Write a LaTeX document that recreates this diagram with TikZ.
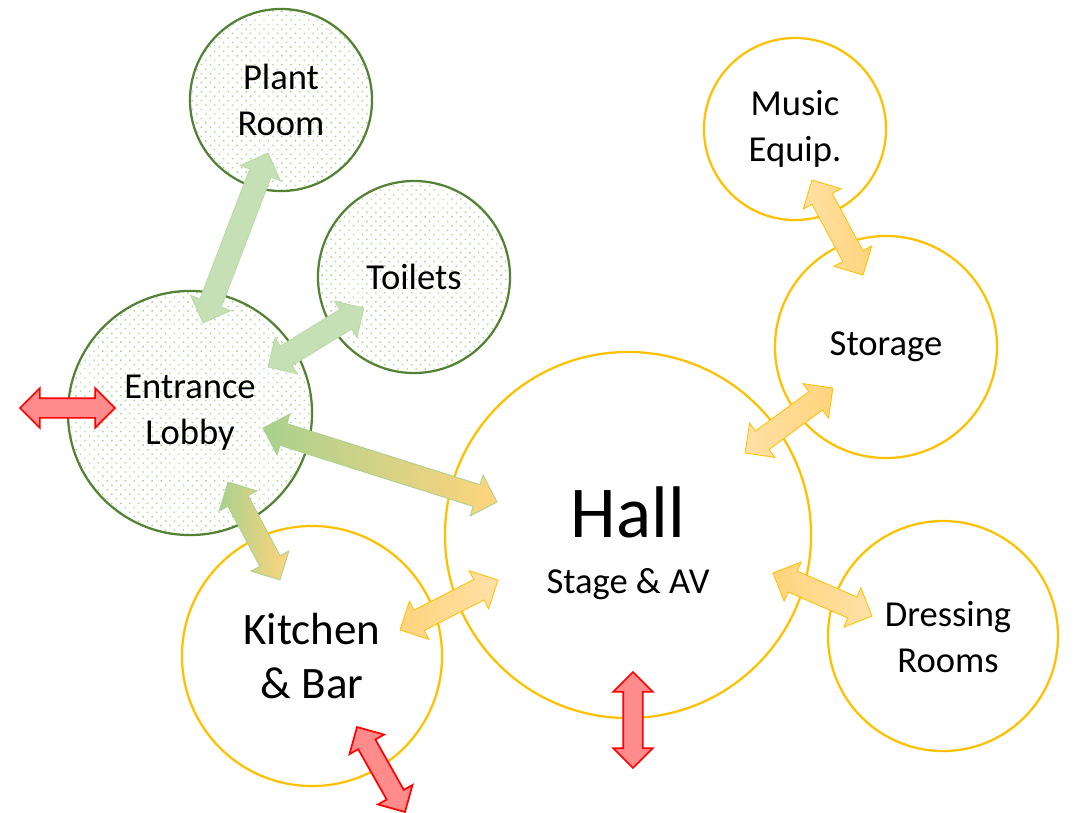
\documentclass[tikz,border=0pt]{standalone}
\usepackage{fontspec}
\setmainfont{Carlito}
\usetikzlibrary{shapes.arrows,patterns.meta,calc}

\definecolor{leafline}{HTML}{548235}
\definecolor{leafdot}{HTML}{A9D18E}
\definecolor{leaffill}{HTML}{C5E0B4}
\definecolor{sunline}{HTML}{FFC000}
\definecolor{sunfill}{HTML}{FFD47C}
\definecolor{sunlight}{HTML}{FFE0A6}
\definecolor{exitline}{HTML}{FF0000}
\definecolor{exitfill}{HTML}{FF8B8B}

\tikzset{
  room/.style={circle, line width=1.6pt, align=center, inner sep=0pt,
    font=\fontsize{26}{32.6}\selectfont},
  greenroom/.style={room, draw=leafline,
    pattern={Dots[distance=4.5pt, radius=0.7pt, angle=45]}, pattern color=leafdot},
  yellowroom/.style={room, draw=sunline},
  link/.style={double arrow, inner xsep=0pt, inner ysep=0.275cm,
    double arrow head extend=0.25cm, line width=0.6pt},
  greenlink/.style={link, fill=leaffill, draw=leafdot!80},
  yellowlink/.style={link, left color=sunfill, right color=sunlight, draw=sunline},
  lightlink/.style={link, left color=sunlight, right color=sunfill, draw=sunline},
  mixlink/.style={link, left color=leafdot, right color=sunfill, draw=leafdot},
  exitlink/.style={link, fill=exitfill, draw=exitline, line width=1.2pt,
    inner ysep=0.225cm}
}

\newcommand{\roomlink}[3]{
\path let \p1=($(#3)-(#2)$), \n1={atan2(\y1,\x1)}, \n2={veclen(\x1,\y1)} in
node[#1, rotate=\n1, minimum height=\n2] at ($(#2)!0.5!(#3)$) {};
}

\begin{document}
\begin{tikzpicture}[x=0.025cm, y=-0.025cm]
\useasboundingbox (0,0) rectangle (1075,812);

\node[greenroom, minimum size=4.55cm] (plant) at (281,100) {Plant\\Room};
\node[greenroom, minimum size=4.8cm] (toilets) at (414,277) {Toilets};
\node[greenroom, minimum size=6.1cm] (lobby) at (190,413) {Entrance\\Lobby};
\node[yellowroom, minimum size=6.5cm, font=\fontsize{32}{39}\selectfont] (kitchen) at (312,656) {Kitchen\\\& Bar};
\node[yellowroom, minimum size=9.15cm] (hall) at (628,535) {};
\node[font=\fontsize{26}{39.7}\selectfont, align=center] (halltext) at (628,543) {{\fontsize{52}{52}\selectfont Hall}\\Stage \& AV};
\node[yellowroom, minimum size=4.55cm] (music) at (795,129) {Music\\Equip.};
\node[yellowroom, minimum size=5.55cm] (storage) at (886,347) {Storage};
\node[yellowroom, minimum size=5.75cm] (dressing) at (943,636) {};
\node[font=\fontsize{26}{32.6}\selectfont, align=center] (dresstext) at (948,637) {Dressing\\Rooms};

\coordinate (pl1) at (268,153);
\coordinate (pl2) at (203,323);
\coordinate (to1) at (364,308);
\coordinate (to2) at (268,367);
\coordinate (lh1) at (263,428);
\coordinate (lh2) at (497,502);
\coordinate (lk1) at (228,482);
\coordinate (lk2) at (280,580);
\coordinate (kh1) at (400,630);
\coordinate (kh2) at (498,580);
\coordinate (ms1) at (812,180);
\coordinate (ms2) at (863,275);
\coordinate (sh1) at (833,388);
\coordinate (sh2) at (745,453);
\coordinate (hd1) at (773,573);
\coordinate (hd2) at (872,616);
\coordinate (ex1) at (20,408);
\coordinate (ex2) at (115,408);
\coordinate (ex3) at (633,672);
\coordinate (ex4) at (633,768);
\coordinate (ex5) at (357,727);
\coordinate (ex6) at (405,812);

\roomlink{greenlink}{pl1}{pl2}
\roomlink{greenlink}{to1}{to2}
\roomlink{mixlink}{lh1}{lh2}
\roomlink{mixlink}{lk1}{lk2}
\roomlink{yellowlink}{kh1}{kh2}
\roomlink{lightlink}{ms1}{ms2}
\roomlink{lightlink}{sh1}{sh2}
\roomlink{yellowlink}{hd1}{hd2}

\roomlink{exitlink}{ex1}{ex2}
\roomlink{exitlink}{ex3}{ex4}
\roomlink{exitlink}{ex5}{ex6}

\end{tikzpicture}
\end{document}
